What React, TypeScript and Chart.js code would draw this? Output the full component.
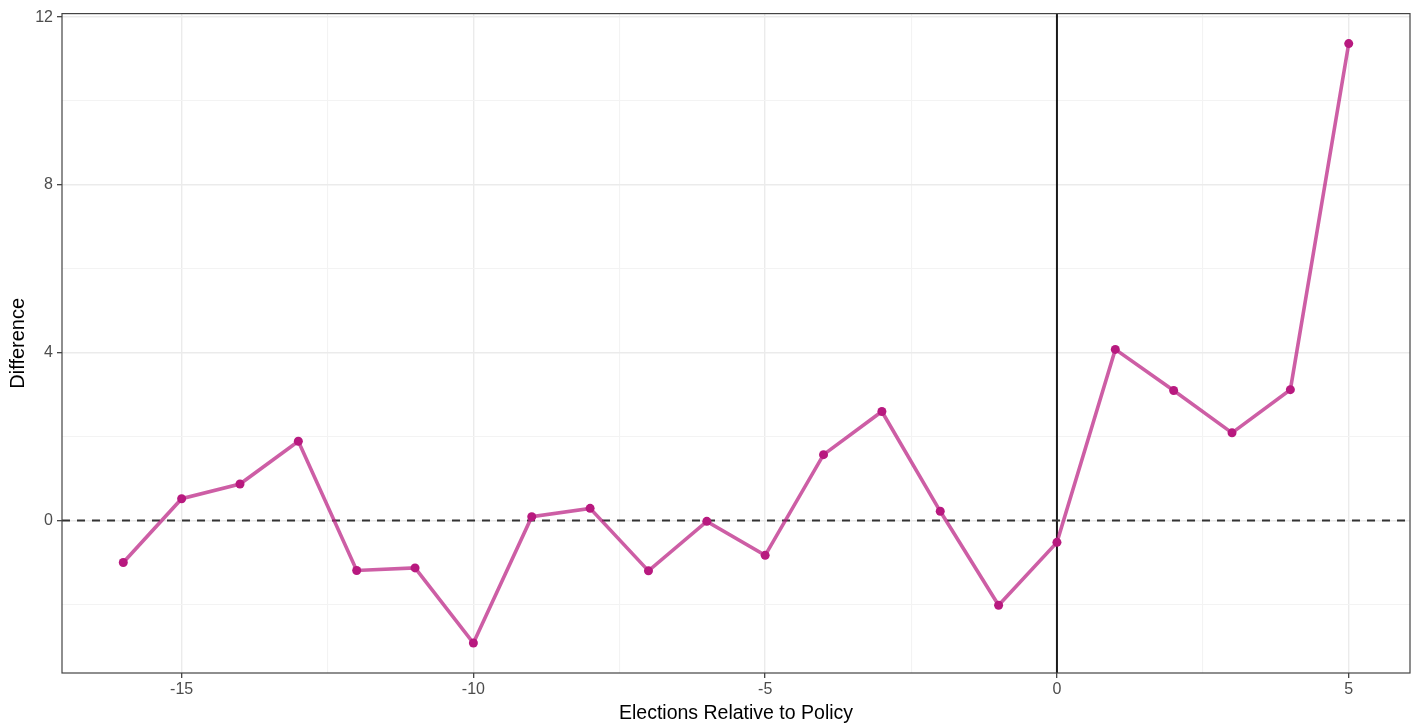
import React, { useEffect, useRef } from "react";
import { Chart, registerables } from "chart.js";

Chart.register(...registerables);

// Elections relative to the policy, and the estimated difference at each one
const elections = [-16, -15, -14, -13, -12, -11, -10, -9, -8, -7, -6, -5, -4, -3, -2, -1, 0, 1, 2, 3, 4, 5];
const difference = [
  -1.0, 0.52, 0.87, 1.89, -1.19, -1.13, -2.92, 0.09, 0.29, -1.2, -0.02, -0.83,
  1.57, 2.6, 0.22, -2.02, -0.52, 4.08, 3.1, 2.09, 3.12, 11.37,
];

// Axis ticks: major (labelled) and minor (grid only)
const xMajorTicks = [-15, -10, -5, 0, 5];
const xMinorTicks = [-12.5, -7.5, -2.5, 2.5];
const yMajorTicks = [0, 4, 8, 12];
const yMinorTicks = [-2, 2, 6, 10];

const FONT = "'Liberation Sans', Arial, Helvetica, sans-serif";
const POINT_COLOR = "#b8197f";
const LINE_COLOR = "rgba(184, 25, 127, 0.7)";

// Panel range with a 5% margin around the data, like ggplot's default expansion
function expandRange(values: number[]): [number, number] {
  const lo = Math.min(...values);
  const hi = Math.max(...values);
  const pad = (hi - lo) * 0.05;
  return [lo - pad, hi + pad];
}

const refLines = {
  id: "refLines",
  beforeDatasetsDraw(chart: any) {
    const { ctx, chartArea, scales } = chart;
    const y0 = scales.y.getPixelForValue(0);
    const x0 = scales.x.getPixelForValue(0);
    ctx.save();
    // vertical line at the policy election
    ctx.strokeStyle = "#1a1a1a";
    ctx.lineWidth = 2;
    ctx.beginPath();
    ctx.moveTo(x0, chartArea.top);
    ctx.lineTo(x0, chartArea.bottom);
    ctx.stroke();
    // dashed zero line
    ctx.strokeStyle = "#333333";
    ctx.lineWidth = 2;
    ctx.setLineDash([8, 7]);
    ctx.beginPath();
    ctx.moveTo(chartArea.left, y0);
    ctx.lineTo(chartArea.right, y0);
    ctx.stroke();
    ctx.restore();
  },
};

const panelBorder = {
  id: "panelBorder",
  afterDraw(chart: any) {
    const { ctx, chartArea } = chart;
    ctx.save();
    ctx.strokeStyle = "#444444";
    ctx.lineWidth = 1.2;
    ctx.strokeRect(
      chartArea.left,
      chartArea.top,
      chartArea.right - chartArea.left,
      chartArea.bottom - chartArea.top
    );
    ctx.restore();
  },
};

export default function App() {
  const canvasRef = useRef<HTMLCanvasElement | null>(null);

  useEffect(() => {
    if (!canvasRef.current) return;
    const [xMin, xMax] = expandRange(elections);
    const [yMin, yMax] = expandRange(difference);
    const xTicks = [...xMajorTicks, ...xMinorTicks].sort((a, b) => a - b);
    const yTicks = [...yMajorTicks, ...yMinorTicks].sort((a, b) => a - b);

    const chart = new Chart(canvasRef.current, {
      type: "line",
      data: {
        datasets: [
          {
            data: elections.map((e, i) => ({ x: e, y: difference[i] })),
            borderColor: LINE_COLOR,
            borderWidth: 3.6,
            pointRadius: 4.5,
            pointBackgroundColor: POINT_COLOR,
            pointBorderColor: POINT_COLOR,
            pointBorderWidth: 0,
            tension: 0,
          },
        ],
      },
      plugins: [refLines, panelBorder],
      options: {
        animation: false,
        responsive: false,
        layout: { padding: { top: 12.5, right: 10, left: 0, bottom: 0 } },
        plugins: { legend: { display: false }, tooltip: { enabled: false } },
        scales: {
          x: {
            type: "linear",
            min: xMin,
            max: xMax,
            afterBuildTicks: (scale: any) => {
              scale.ticks = xTicks.map((v) => ({ value: v }));
            },
            afterFit: (scale: any) => {
              scale.height = 52;
            },
            ticks: {
              autoSkip: false,
              maxRotation: 0,
              padding: 2,
              color: "#4d4d4d",
              font: { family: FONT, size: 16 },
              callback: (v: any) => (xMajorTicks.includes(Number(v)) ? String(v) : ""),
            },
            grid: {
              color: (ctx: any) =>
                xMajorTicks.includes(ctx.tick?.value) ? "#ebebeb" : "#f3f3f3",
              lineWidth: (ctx: any) => (xMajorTicks.includes(ctx.tick?.value) ? 1.4 : 1.1),
              tickColor: (ctx: any) =>
                xMajorTicks.includes(ctx.tick?.value) ? "#333333" : "rgba(0,0,0,0)",
              tickLength: 5,
              tickWidth: 1.2,
            },
            border: { display: false },
            title: {
              display: true,
              text: "Elections Relative to Policy",
              color: "#000000",
              font: { family: FONT, size: 19.5 },
              padding: { top: 0, bottom: 0 },
            },
          },
          y: {
            type: "linear",
            min: yMin,
            max: yMax,
            afterBuildTicks: (scale: any) => {
              scale.ticks = yTicks.map((v) => ({ value: v }));
            },
            afterFit: (scale: any) => {
              scale.width = 62;
            },
            ticks: {
              autoSkip: false,
              padding: 4,
              color: "#4d4d4d",
              font: { family: FONT, size: 16 },
              callback: (v: any) => (yMajorTicks.includes(Number(v)) ? String(v) : ""),
            },
            grid: {
              color: (ctx: any) =>
                yMajorTicks.includes(ctx.tick?.value) ? "#ebebeb" : "#f3f3f3",
              lineWidth: (ctx: any) => (yMajorTicks.includes(ctx.tick?.value) ? 1.4 : 1.1),
              tickColor: (ctx: any) =>
                yMajorTicks.includes(ctx.tick?.value) ? "#333333" : "rgba(0,0,0,0)",
              tickLength: 5,
              tickWidth: 1.2,
            },
            border: { display: false },
            title: {
              display: true,
              text: "Difference",
              color: "#000000",
              font: { family: FONT, size: 20 },
              padding: { top: 6, bottom: 0 },
            },
          },
        },
      },
    });
    return () => chart.destroy();
  }, []);

  return (
    <div style={{ position: "fixed", left: 0, top: 0, width: 1420, height: 725, background: "#ffffff" }}>
      <canvas ref={canvasRef} width={1420} height={725} style={{ display: "block" }} />
    </div>
  );
}
